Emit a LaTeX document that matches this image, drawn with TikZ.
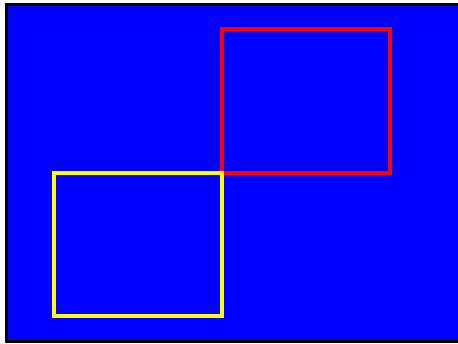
\documentclass[tikz,border=0pt]{standalone}
\usepackage{tikz}
\usetikzlibrary{positioning}
\definecolor{panelblue}{RGB}{0,0,255}
\definecolor{boxred}{RGB}{255,0,0}
\definecolor{boxyellow}{RGB}{255,255,0}
\tikzset{
  frame/.style={draw=black,line width=3pt,fill=panelblue},
  square/.style={line width=4pt,line join=miter}
}

\begin{document}
\begin{tikzpicture}[x=1pt,y=-1pt]
\useasboundingbox[fill=white] (0,0) rectangle (458,344);
% background panel, running past the right edge
\begin{scope}
\clip (0,0) rectangle (458,344);
\draw[frame] (6,5) rectangle (462,342);
\end{scope}
% the two boxes meeting at one corner
\coordinate (R1) at (222,29);
\coordinate (R2) at (390,173);
\coordinate (Y1) at (54,173);
\coordinate (Y2) at (222,316);
\draw[square,draw=boxred] (R1) rectangle (R2);
\draw[square,draw=boxyellow] (Y1) rectangle (Y2);
\end{tikzpicture}
\end{document}
